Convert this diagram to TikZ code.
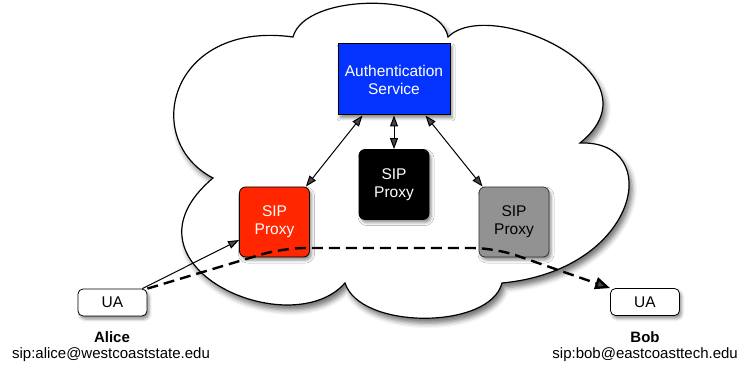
\documentclass[tikz,border=0pt]{standalone}
\usepackage{fontspec}
\setmainfont{Liberation Sans}
\usetikzlibrary{arrows.meta,shadows.blur}
\definecolor{authblue}{RGB}{4,51,255}
\definecolor{proxyred}{RGB}{255,38,0}
\definecolor{proxygray}{RGB}{146,146,146}
\begin{document}
\begin{tikzpicture}[x=1pt,y=-1pt,
  every node/.style={font=\fontsize{15.5}{18}\selectfont, align=center, inner sep=0pt},
  addr/.style={font=\fontsize{15}{18}\selectfont},
  person/.style={font=\bfseries\fontsize{15}{18}\selectfont},
  shad/.style={blur shadow={shadow xshift=2pt, shadow yshift=-3pt, shadow blur radius=3pt, shadow opacity=45}},
  cloudshad/.style={blur shadow={shadow xshift=3pt, shadow yshift=-5pt, shadow blur radius=5pt, shadow opacity=55}},
  authbox/.style={draw=black, line width=1pt, fill=authblue, text=white, minimum width=112pt, minimum height=71pt, shad},
  proxy/.style={draw=black, line width=0.8pt, rounded corners=6pt, minimum width=70pt, minimum height=70pt, shad},
  ua/.style={draw=black, line width=0.8pt, fill=white, rounded corners=5pt, minimum width=69pt, minimum height=27pt, shad},
  link/.style={line width=1pt, {Triangle[length=11pt,width=8pt]}-{Triangle[length=11pt,width=8pt]}},
  sendarrow/.style={line width=1pt, -{Triangle[length=11pt,width=8pt]}},
  callpath/.style={line width=2.4pt, dash pattern=on 11pt off 6pt, rounded corners=22pt, -{Triangle[length=15pt,width=12pt]}}
]
\useasboundingbox (0,0) rectangle (740,366);

% cloud
\draw[line width=1.2pt, fill=white, cloudshad]
  (213,178) .. controls (140,140) and (170,20) .. (293,37)
  .. controls (305,-8) and (440,-8) .. (448,37)
  .. controls (490,-5) and (665,75) .. (580,143)
  .. controls (665,140) and (640,270) .. (502,283)
  .. controls (490,330) and (360,330) .. (345,283)
  .. controls (290,345) and (110,265) .. cycle;

% nodes
\node[authbox] (auth) at (394,79.5) {Authentication\\Service};
\node[proxy, fill=black, text=white] (black) at (394,184.5) {SIP\\Proxy};
\node[proxy, fill=proxyred, text=white] (red) at (274.5,222) {SIP\\Proxy};
\node[proxy, fill=proxygray, text=black, draw=black!80] (gray) at (514,222) {SIP\\Proxy};
\node[ua] (alice) at (112.5,302.5) {UA};
\node[ua] (bob) at (645,302) {UA};

\node[person] (alicename) at (112,337) {Alice};
\node[addr] (aliceaddr) at (111,355) {sip:alice@westcoaststate.edu};
\node[person] (bobname) at (645,337) {Bob};
\node[addr, anchor=east] (bobaddr) at (738,355) {sip:bob@eastcoasttech.edu};

% connectors
\draw[link] ([xshift=25pt]auth.south west) -- ([xshift=-4pt]red.north east);
\draw[link] (auth.south) -- (black.north);
\draw[link] ([xshift=-25pt]auth.south east) -- ([xshift=4pt]gray.north west);
\draw[sendarrow] ([xshift=-5pt]alice.north east) -- ([yshift=-18pt]red.west);

\coordinate (d1) at (283,248);
\coordinate (d2) at (495,248);
\draw[callpath] (alice.north east) -- (d1) -- (d2) -- (bob.north west);
\end{tikzpicture}
\end{document}
